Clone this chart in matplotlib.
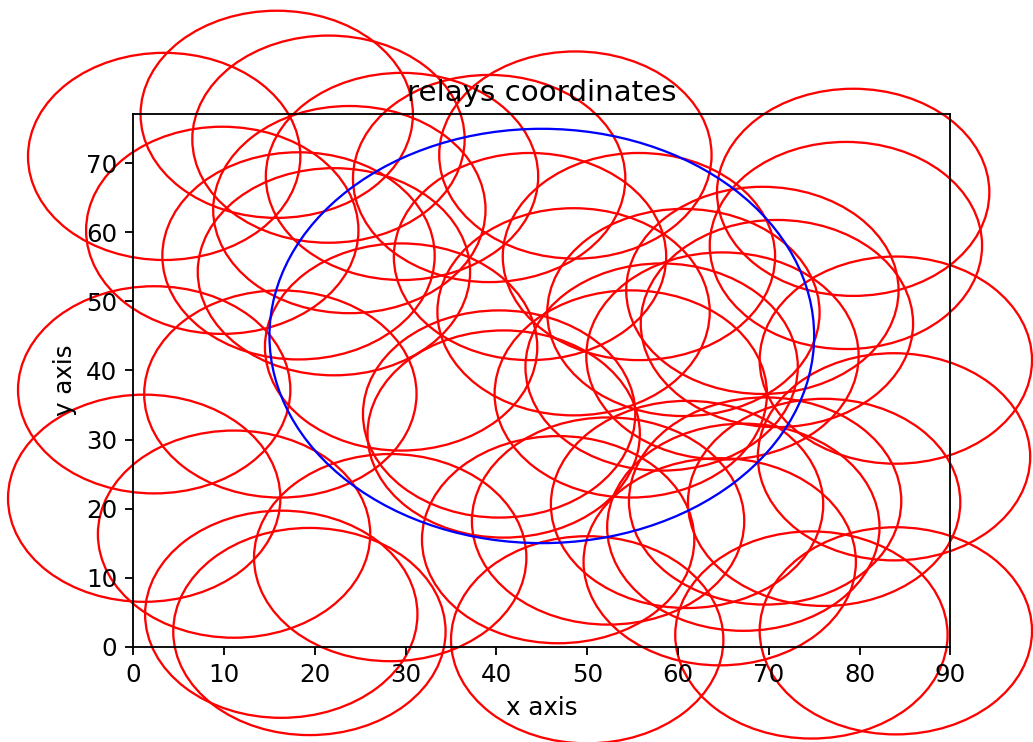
import matplotlib
matplotlib.use("Agg")
import matplotlib.pyplot as plt

# relay centre coordinates (data units)
relay_x = [3.4, 15.8, 21.5, 9.8, 18.2, 22.1, 23.8, 29.6, 39.2, 48.7,
           79.3, 78.5, 69.3, 70.9, 84.0, 83.8, 2.3, 16.2, 1.2, 11.1,
           16.3, 19.4, 28.3, 46.8, 50.0, 74.7, 84.0, 40.3, 40.8, 29.5,
           54.8, 60.6, 64.9, 48.5, 55.7, 43.7, 52.3, 61.0, 64.6, 67.2,
           69.6, 76.1, 58.2]
relay_y = [71.0, 77.1, 73.5, 60.3, 56.6, 54.3, 63.3, 68.1, 67.8, 71.2,
           65.8, 58.1, 51.6, 46.8, 41.5, 27.5, 37.2, 36.6, 21.5, 16.3,
           4.7, 2.2, 12.9, 15.5, 1.0, 1.7, 2.3, 33.7, 30.8, 43.4,
           36.6, 48.4, 42.1, 48.5, 56.5, 56.5, 18.2, 20.6, 12.3, 17.3,
           21.1, 20.9, 40.5]
relay_radius = 15

area_center = (45, 45)
area_radius = 30

x_limits = (0, 90)
y_limits = (0, 77.1)

plt.rcParams['font.size'] = 10.7
plt.rcParams['axes.titlesize'] = 12.8

fig = plt.figure(figsize=(1033 / 165, 742 / 165), dpi=165)
ax = fig.add_axes([133.3 / 1033, (742 - 646.7) / 742, 817 / 1033, (646.7 - 114.3) / 742])

for x, y in zip(relay_x, relay_y):
    ax.add_patch(plt.Circle((x, y), relay_radius, color='r', fill=False, clip_on=False))

ax.add_patch(plt.Circle(area_center, area_radius, color='b', fill=False, clip_on=False))

ax.set_xlim(*x_limits)
ax.set_ylim(*y_limits)
ax.set_title('relays coordinates')
ax.set_xlabel('x axis')
ax.set_ylabel('y axis')

fig.savefig('out.png', dpi=165)
